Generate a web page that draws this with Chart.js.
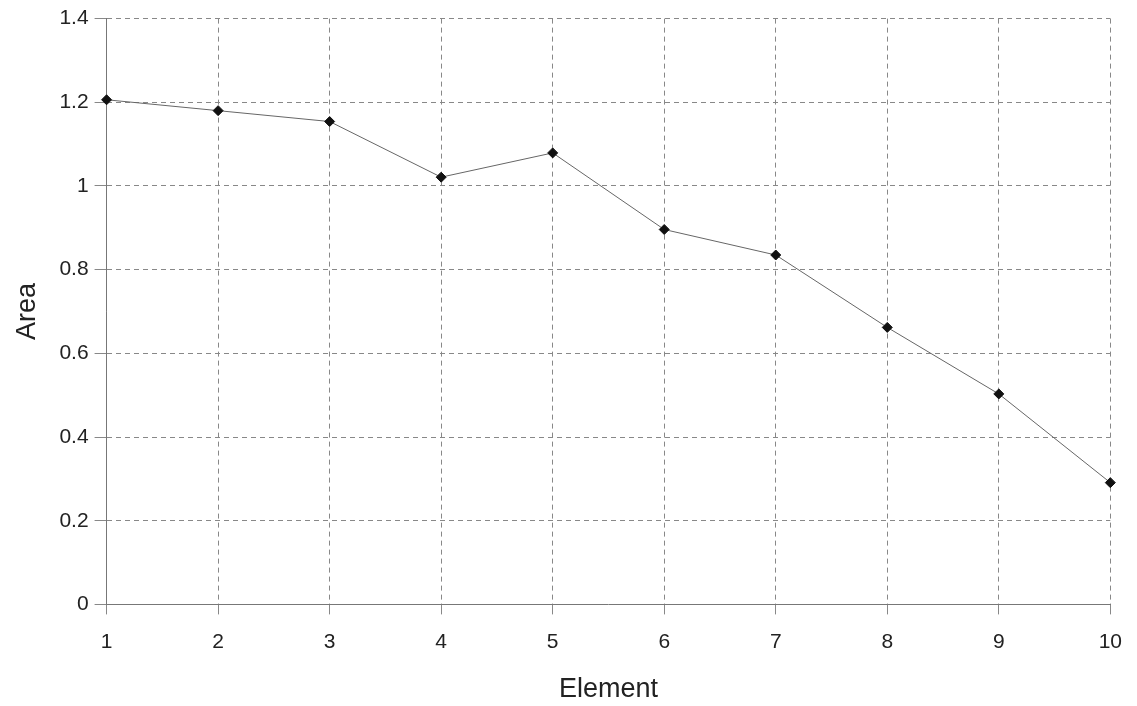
<!DOCTYPE html>
<html>
<head>
<meta charset="utf-8">
<script src="https://cdn.jsdelivr.net/npm/chart.js@4"></script>
<style>
  html, body { margin: 0; padding: 0; background: #fff; }
  #wrap { width: 1137px; height: 706px; }
</style>
</head>
<body>
<div id="wrap"><canvas id="areaChart" width="1137" height="706"></canvas></div>
<script>
const elements = [1, 2, 3, 4, 5, 6, 7, 8, 9, 10];
const areaValues = [1.206, 1.18, 1.154, 1.021, 1.079, 0.896, 0.835, 0.662, 0.503, 0.291];
const yTicks = [0, 0.2, 0.4, 0.6, 0.8, 1, 1.2, 1.4];

const font = "'Liberation Sans', Arial, Helvetica, sans-serif";

new Chart(document.getElementById("areaChart"), {
  type: "line",
  data: {
    datasets: [
      {
        label: "Area",
        data: elements.map((x, i) => ({ x: x, y: areaValues[i] })),
        borderColor: "#666",
        borderWidth: 1,
        pointStyle: "rectRot",
        pointRadius: 5,
        pointBackgroundColor: "#111",
        pointBorderColor: "#111",
        pointBorderWidth: 1,
        tension: 0,
        fill: false,
        clip: false,
      },
    ],
  },
  options: {
    responsive: false,
    animation: false,
    layout: { padding: { left: 11, right: 26, top: 14, bottom: 0 } },
    plugins: { legend: { display: false }, tooltip: { enabled: false } },
    scales: {
      x: {
        type: "linear",
        min: 1,
        max: 10,
        afterBuildTicks: (axis) => { axis.ticks = elements.map((v) => ({ value: v })); },
        grid: { color: "#888", lineWidth: 1, tickLength: 10, tickColor: "#888" },
        border: { display: true, color: "#777", width: 1, dash: [5, 4] },
        ticks: { color: "#222", font: { family: font, size: 21 }, padding: 15, maxRotation: 0 },
        title: { display: true, text: "Element", color: "#222", font: { family: font, size: 27 }, padding: { top: 4, bottom: 0 } },
      },
      y: {
        min: 0,
        max: 1.4,
        afterBuildTicks: (axis) => { axis.ticks = yTicks.map((v) => ({ value: v })); },
        grid: { color: "#888", lineWidth: 1, tickLength: 12, tickColor: "#888" },
        border: { display: true, color: "#777", width: 1, dash: [5, 4] },
        ticks: { color: "#222", font: { family: font, size: 21 }, padding: 6, callback: (v) => String(+v.toFixed(1)) },
        title: { display: true, text: "Area", color: "#222", font: { family: font, size: 27 }, padding: { top: 0, bottom: 10 } },
      },
    },
  },
});
</script>
</body>
</html>
